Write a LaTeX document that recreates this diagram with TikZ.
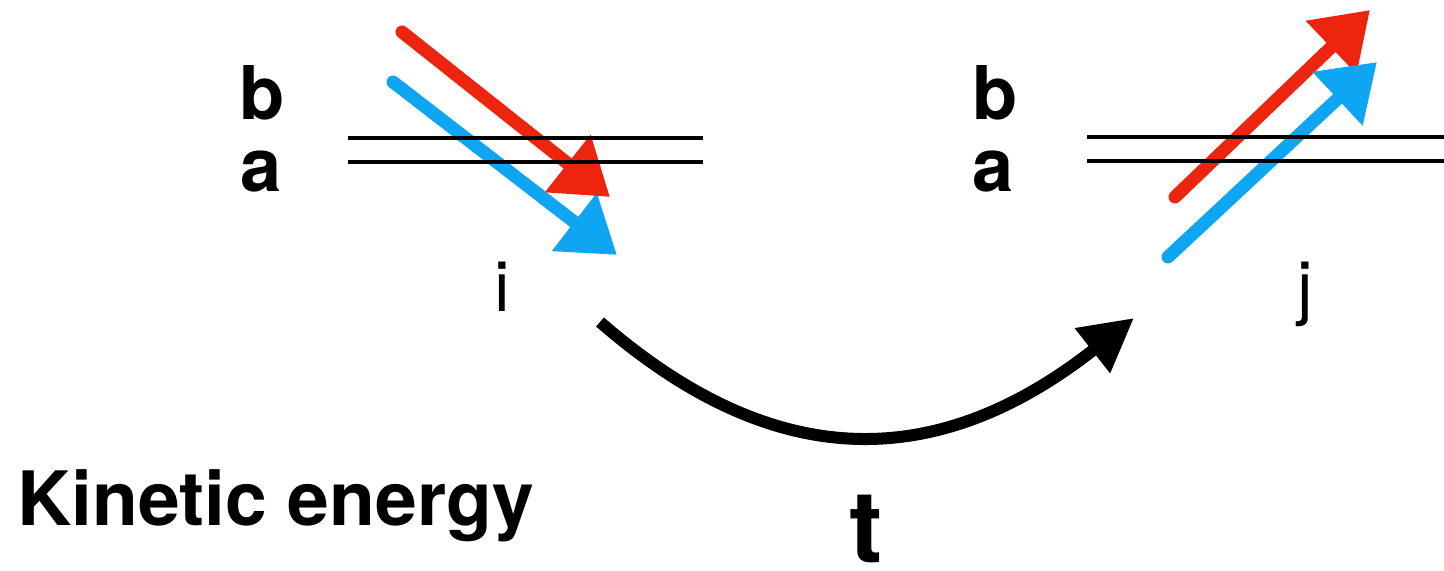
\documentclass[tikz,border=0pt]{standalone}
\usepackage{fontspec}
\setsansfont{TeX Gyre Heros}
\usetikzlibrary{arrows.meta}
\definecolor{crayonRed}{RGB}{237,36,14}
\definecolor{crayonBlue}{RGB}{14,165,243}
\colorlet{ink}{black}
\tikzset{
  level/.style={draw=ink, line width=2.4pt},
  crayon/.style={line width=6.5pt, line cap=round, -{Triangle[length=27pt,width=35pt]}},
  timearrow/.style={draw=ink, line width=6pt, -{Triangle[length=26.5pt,width=27pt]}},
  levelname/.style={font=\sffamily\bfseries\fontsize{37}{40}\selectfont, inner sep=0pt, anchor=base},
  sitename/.style={font=\sffamily\fontsize{35}{38}\selectfont, inner sep=0pt, anchor=base},
  title label/.style={font=\sffamily\bfseries\fontsize{37.5}{41}\selectfont, inner sep=0pt, anchor=base west},
  time label/.style={font=\sffamily\bfseries\fontsize{50}{54}\selectfont, inner sep=0pt, anchor=base}
}

\begin{document}
\begin{tikzpicture}[x=0.5pt,y=-0.5pt]
  \useasboundingbox (0,0) rectangle (1444,571);

  % site i
  \node[levelname] (bi) at (262,120) {b};
  \node[levelname] (ai) at (261,192) {a};
  \node[sitename] (sitei) at (502,312) {i};
  \coordinate (redi start) at (402,32);
  \coordinate (redi tip) at (610,197);
  \coordinate (bluei start) at (393,82);
  \coordinate (bluei tip) at (617,255);
  \draw[crayon, crayonBlue] (bluei start) -- (bluei tip);
  \draw[crayon, crayonRed] (redi start) -- (redi tip);
  \draw[level] (348,138) -- (703,138);
  \draw[level] (348,162) -- (703,162);

  % site j
  \node[levelname] (bj) at (995,120) {b};
  \node[levelname] (aj) at (993,192) {a};
  \node[sitename] (sitej) at (1305,312) {j};
  \coordinate (redj start) at (1175,197);
  \coordinate (redj tip) at (1370,10);
  \coordinate (bluej start) at (1168,257);
  \coordinate (bluej tip) at (1377,62);
  \draw[crayon, crayonRed] (redj start) -- (redj tip);
  \draw[crayon, crayonBlue] (bluej start) -- (bluej tip);
  \draw[level] (1087,137) -- (1444,137);
  \draw[level] (1087,161) -- (1444,161);

  % hopping
  \coordinate (hop start) at (600,322);
  \coordinate (hop end) at (1134,318);
  \draw[timearrow] (hop start) .. controls (761,462) and (924,483) .. (hop end);
  \node[time label] (time) at (866,562) {t};

  \node[title label] (kinetic) at (17,525) {Kinetic energy};
\end{tikzpicture}
\end{document}
